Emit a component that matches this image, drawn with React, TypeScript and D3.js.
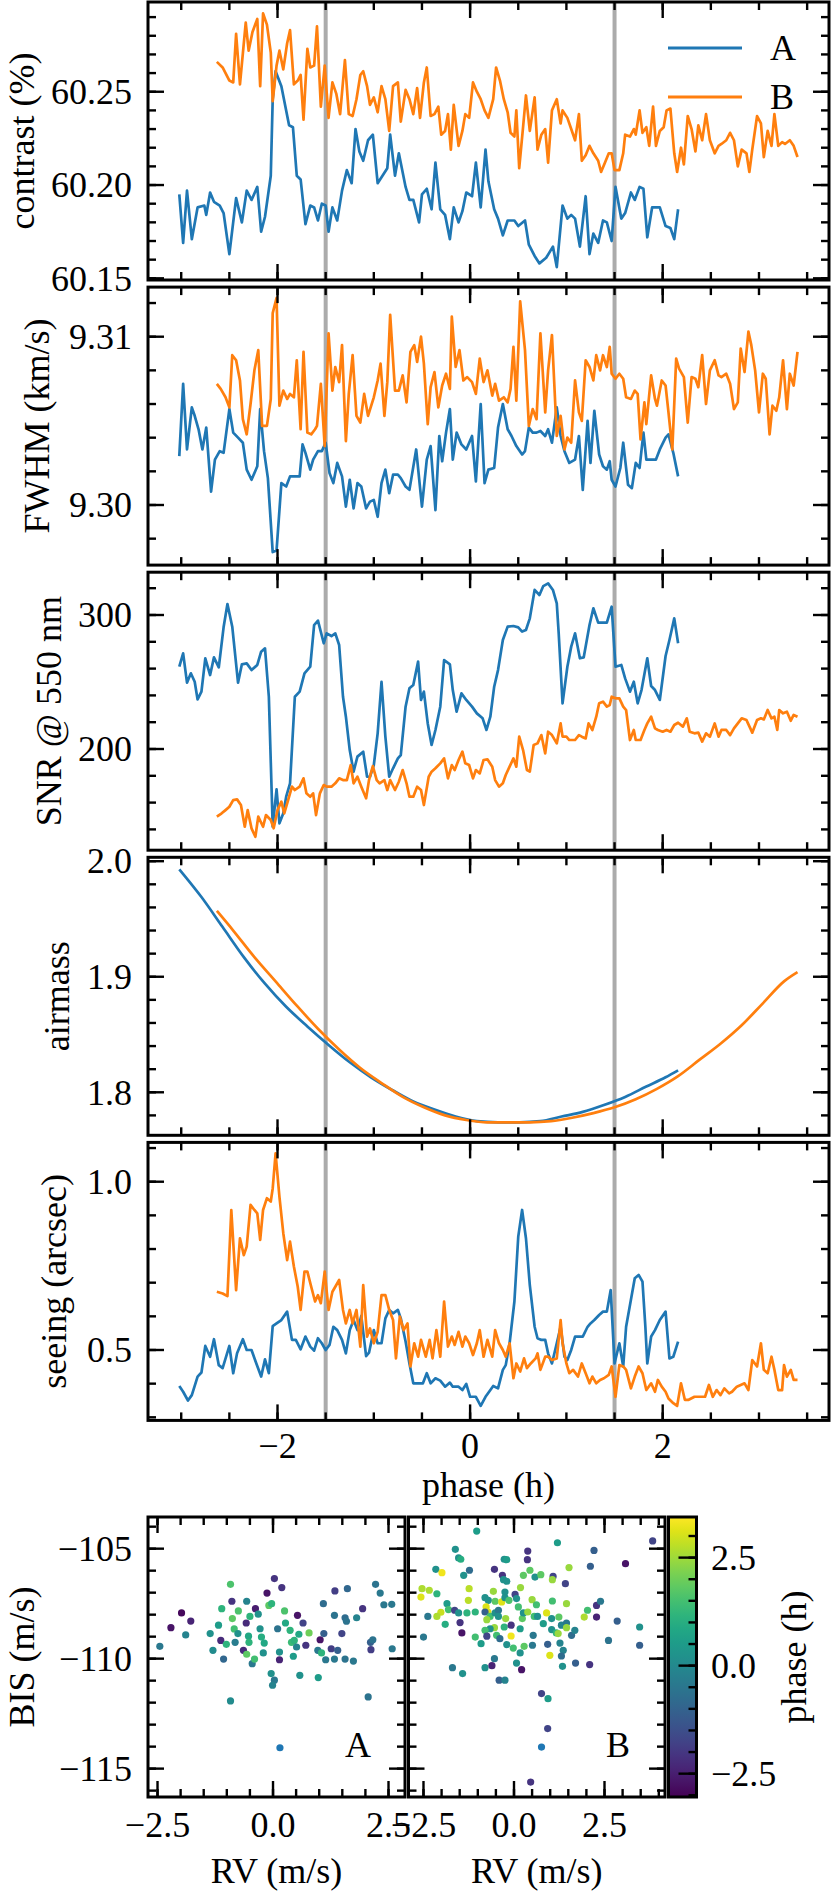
import React from "react";
import * as d3 from "d3";

type P = [number, number];
type S = [number, number, number];

// ---------- data (phase in h, value) ----------
const contrastA: P[] = [[-3.02,60.195],[-2.98,60.169],[-2.94,60.197],[-2.89,60.171],[-2.83,60.188],[-2.76,60.189],[-2.74,60.184],[-2.70,60.196],[-2.66,60.191],[-2.60,60.189],[-2.56,60.185],[-2.50,60.163],[-2.43,60.193],[-2.37,60.180],[-2.32,60.197],[-2.27,60.192],[-2.21,60.199],[-2.17,60.175],[-2.13,60.183],[-2.07,60.205],[-2.05,60.246],[-2.02,60.261],[-1.96,60.253],[-1.88,60.232],[-1.84,60.231],[-1.80,60.205],[-1.76,60.203],[-1.71,60.179],[-1.66,60.189],[-1.62,60.188],[-1.58,60.181],[-1.54,60.190],[-1.50,60.189],[-1.47,60.175],[-1.43,60.188],[-1.38,60.181],[-1.33,60.197],[-1.28,60.208],[-1.23,60.201],[-1.19,60.230],[-1.15,60.218],[-1.11,60.213],[-1.06,60.224],[-1.01,60.227],[-0.96,60.201],[-0.91,60.205],[-0.86,60.209],[-0.83,60.227],[-0.78,60.205],[-0.74,60.217],[-0.67,60.199],[-0.63,60.192],[-0.59,60.192],[-0.53,60.180],[-0.50,60.195],[-0.45,60.198],[-0.40,60.187],[-0.36,60.212],[-0.31,60.187],[-0.26,60.184],[-0.21,60.171],[-0.17,60.188],[-0.12,60.180],[-0.08,60.186],[-0.04,60.196],[0.02,60.194],[0.06,60.212],[0.11,60.188],[0.16,60.219],[0.19,60.202],[0.25,60.187],[0.29,60.182],[0.34,60.173],[0.39,60.181],[0.46,60.181],[0.50,60.178],[0.57,60.181],[0.61,60.168],[0.67,60.162],[0.72,60.158],[0.79,60.161],[0.86,60.167],[0.90,60.156],[0.96,60.189],[1.01,60.182],[1.05,60.184],[1.09,60.182],[1.14,60.167],[1.20,60.194],[1.24,60.163],[1.28,60.174],[1.33,60.169],[1.38,60.181],[1.42,60.180],[1.47,60.170],[1.51,60.199],[1.57,60.182],[1.61,60.185],[1.67,60.196],[1.71,60.192],[1.76,60.199],[1.80,60.198],[1.84,60.172],[1.89,60.188],[1.97,60.188],[2.03,60.178],[2.08,60.177],[2.12,60.171],[2.16,60.187]];

const contrastB: P[] = [[-2.63,60.266],[-2.57,60.263],[-2.50,60.256],[-2.46,60.255],[-2.43,60.281],[-2.39,60.254],[-2.33,60.287],[-2.30,60.272],[-2.26,60.282],[-2.21,60.289],[-2.18,60.253],[-2.15,60.292],[-2.11,60.286],[-2.07,60.271],[-2.05,60.245],[-2.01,60.264],[-1.98,60.272],[-1.94,60.262],[-1.90,60.276],[-1.87,60.283],[-1.83,60.254],[-1.79,60.256],[-1.76,60.259],[-1.73,60.235],[-1.69,60.273],[-1.66,60.263],[-1.62,60.264],[-1.59,60.285],[-1.55,60.242],[-1.51,60.264],[-1.47,60.236],[-1.43,60.255],[-1.39,60.249],[-1.35,60.238],[-1.30,60.267],[-1.26,60.238],[-1.22,60.237],[-1.18,60.246],[-1.14,60.259],[-1.11,60.261],[-1.07,60.253],[-1.04,60.243],[-1.00,60.247],[-0.96,60.239],[-0.92,60.253],[-0.88,60.246],[-0.84,60.229],[-0.80,60.253],[-0.75,60.255],[-0.72,60.234],[-0.67,60.251],[-0.63,60.246],[-0.59,60.238],[-0.55,60.252],[-0.52,60.236],[-0.48,60.255],[-0.45,60.263],[-0.41,60.237],[-0.37,60.238],[-0.33,60.242],[-0.30,60.227],[-0.26,60.229],[-0.23,60.238],[-0.20,60.219],[-0.17,60.243],[-0.12,60.221],[-0.08,60.229],[-0.05,60.238],[-0.01,60.236],[0.03,60.255],[0.07,60.250],[0.11,60.246],[0.15,60.240],[0.19,60.236],[0.24,60.246],[0.27,60.263],[0.31,60.256],[0.35,60.246],[0.39,60.239],[0.42,60.228],[0.46,60.226],[0.48,60.240],[0.51,60.209],[0.55,60.231],[0.58,60.248],[0.62,60.229],[0.67,60.247],[0.70,60.219],[0.74,60.227],[0.78,60.230],[0.81,60.212],[0.85,60.240],[0.90,60.246],[0.94,60.233],[0.96,60.240],[1.01,60.236],[1.05,60.230],[1.09,60.224],[1.13,60.238],[1.16,60.213],[1.20,60.216],[1.24,60.221],[1.28,60.217],[1.33,60.213],[1.36,60.207],[1.40,60.212],[1.44,60.217],[1.47,60.217],[1.50,60.208],[1.55,60.208],[1.59,60.217],[1.61,60.227],[1.66,60.226],[1.70,60.230],[1.72,60.227],[1.76,60.240],[1.79,60.228],[1.83,60.231],[1.86,60.221],[1.90,60.242],[1.93,60.221],[1.97,60.229],[2.01,60.231],[2.04,60.240],[2.08,60.241],[2.12,60.217],[2.15,60.207],[2.19,60.220],[2.22,60.211],[2.26,60.237],[2.30,60.230],[2.34,60.218],[2.37,60.232],[2.41,60.224],[2.45,60.238],[2.49,60.224],[2.54,60.217],[2.58,60.221],[2.61,60.222],[2.66,60.224],[2.70,60.228],[2.74,60.224],[2.78,60.210],[2.82,60.219],[2.87,60.217],[2.90,60.207],[2.93,60.219],[2.98,60.237],[3.02,60.233],[3.05,60.215],[3.09,60.229],[3.13,60.221],[3.16,60.238],[3.20,60.221],[3.24,60.223],[3.27,60.222],[3.32,60.224],[3.36,60.221],[3.40,60.215]];

const fwhmA: P[] = [[-3.02,9.3029],[-2.98,9.3072],[-2.94,9.3033],[-2.89,9.3058],[-2.86,9.3053],[-2.82,9.3045],[-2.78,9.3033],[-2.74,9.3046],[-2.69,9.3008],[-2.65,9.3027],[-2.60,9.3032],[-2.56,9.3031],[-2.50,9.3057],[-2.46,9.3043],[-2.41,9.3040],[-2.36,9.3037],[-2.32,9.3021],[-2.27,9.3015],[-2.21,9.3023],[-2.18,9.3057],[-2.14,9.3032],[-2.10,9.3016],[-2.05,9.2972],[-2.01,9.2973],[-1.96,9.3013],[-1.91,9.3011],[-1.87,9.3017],[-1.83,9.3017],[-1.77,9.3017],[-1.74,9.3036],[-1.71,9.3031],[-1.66,9.3021],[-1.63,9.3027],[-1.58,9.3032],[-1.54,9.3032],[-1.50,9.3037],[-1.46,9.3019],[-1.42,9.3013],[-1.38,9.3025],[-1.33,9.3017],[-1.29,9.2999],[-1.25,9.3015],[-1.21,9.2998],[-1.17,9.3013],[-1.13,9.3011],[-1.08,9.2998],[-1.04,9.3002],[-1.00,9.3003],[-0.96,9.2993],[-0.92,9.3013],[-0.88,9.3021],[-0.84,9.3007],[-0.80,9.3018],[-0.75,9.3018],[-0.72,9.3016],[-0.67,9.3011],[-0.63,9.3009],[-0.56,9.3033],[-0.50,9.2999],[-0.45,9.3027],[-0.41,9.3035],[-0.36,9.2997],[-0.32,9.3041],[-0.29,9.3026],[-0.25,9.3043],[-0.21,9.3057],[-0.18,9.3027],[-0.14,9.3043],[-0.09,9.3036],[-0.04,9.3033],[0.02,9.3041],[0.06,9.3014],[0.11,9.3060],[0.15,9.3013],[0.19,9.3021],[0.25,9.3022],[0.29,9.3046],[0.34,9.3060],[0.39,9.3045],[0.43,9.3041],[0.48,9.3035],[0.54,9.3030],[0.57,9.3032],[0.61,9.3046],[0.65,9.3043],[0.69,9.3043],[0.73,9.3044],[0.78,9.3041],[0.81,9.3045],[0.85,9.3037],[0.90,9.3058],[0.94,9.3041],[0.98,9.3032],[1.03,9.3025],[1.09,9.3027],[1.13,9.3041],[1.17,9.3009],[1.22,9.3050],[1.25,9.3025],[1.29,9.3056],[1.34,9.3030],[1.38,9.3023],[1.42,9.3021],[1.45,9.3026],[1.47,9.3015],[1.51,9.3011],[1.56,9.3022],[1.59,9.3037],[1.64,9.3012],[1.68,9.3010],[1.72,9.3025],[1.76,9.3022],[1.80,9.3043],[1.83,9.3027],[1.89,9.3027],[1.93,9.3027],[1.97,9.3033],[2.03,9.3040],[2.06,9.3042],[2.11,9.3031],[2.16,9.3017]];

const fwhmB: P[] = [[-2.63,9.3072],[-2.59,9.3069],[-2.54,9.3064],[-2.50,9.3058],[-2.47,9.3089],[-2.43,9.3086],[-2.39,9.3074],[-2.36,9.3051],[-2.32,9.3042],[-2.28,9.3060],[-2.24,9.3080],[-2.20,9.3092],[-2.16,9.3047],[-2.11,9.3047],[-2.07,9.3063],[-2.05,9.3114],[-2.01,9.3123],[-1.98,9.3059],[-1.94,9.3068],[-1.90,9.3063],[-1.87,9.3066],[-1.83,9.3064],[-1.80,9.3086],[-1.76,9.3045],[-1.73,9.3091],[-1.69,9.3043],[-1.65,9.3042],[-1.61,9.3045],[-1.59,9.3047],[-1.55,9.3072],[-1.51,9.3035],[-1.47,9.3102],[-1.43,9.3068],[-1.40,9.3082],[-1.36,9.3073],[-1.33,9.3095],[-1.29,9.3038],[-1.26,9.3066],[-1.22,9.3089],[-1.18,9.3053],[-1.14,9.3049],[-1.10,9.3066],[-1.06,9.3053],[-1.00,9.3064],[-0.96,9.3074],[-0.93,9.3084],[-0.89,9.3053],[-0.86,9.3073],[-0.83,9.3113],[-0.78,9.3068],[-0.74,9.3068],[-0.70,9.3077],[-0.66,9.3061],[-0.62,9.3091],[-0.58,9.3095],[-0.55,9.3085],[-0.51,9.3100],[-0.48,9.3084],[-0.44,9.3048],[-0.41,9.3070],[-0.37,9.3079],[-0.33,9.3058],[-0.29,9.3071],[-0.25,9.3078],[-0.21,9.3069],[-0.19,9.3112],[-0.15,9.3082],[-0.11,9.3092],[-0.07,9.3074],[-0.03,9.3076],[0.02,9.3073],[0.06,9.3066],[0.10,9.3087],[0.14,9.3073],[0.18,9.3080],[0.23,9.3065],[0.26,9.3072],[0.30,9.3062],[0.35,9.3064],[0.39,9.3061],[0.42,9.3069],[0.45,9.3094],[0.48,9.3062],[0.52,9.3121],[0.57,9.3092],[0.61,9.3047],[0.65,9.3057],[0.69,9.3051],[0.73,9.3102],[0.78,9.3055],[0.81,9.3080],[0.85,9.3101],[0.90,9.3041],[0.94,9.3053],[0.98,9.3033],[1.01,9.3040],[1.05,9.3037],[1.09,9.3074],[1.13,9.3055],[1.16,9.3050],[1.20,9.3086],[1.24,9.3082],[1.28,9.3074],[1.31,9.3089],[1.35,9.3080],[1.38,9.3089],[1.42,9.3082],[1.45,9.3094],[1.47,9.3078],[1.51,9.3075],[1.55,9.3078],[1.59,9.3075],[1.62,9.3064],[1.67,9.3063],[1.71,9.3068],[1.74,9.3066],[1.77,9.3039],[1.81,9.3061],[1.83,9.3048],[1.88,9.3077],[1.92,9.3063],[1.94,9.3059],[1.99,9.3074],[2.03,9.3071],[2.06,9.3055],[2.10,9.3033],[2.14,9.3087],[2.17,9.3081],[2.22,9.3076],[2.26,9.3049],[2.30,9.3076],[2.34,9.3075],[2.37,9.3070],[2.41,9.3089],[2.45,9.3060],[2.49,9.3080],[2.54,9.3086],[2.58,9.3077],[2.61,9.3076],[2.66,9.3078],[2.70,9.3072],[2.74,9.3057],[2.78,9.3061],[2.81,9.3093],[2.85,9.3079],[2.89,9.3103],[2.92,9.3095],[2.96,9.3080],[3.00,9.3055],[3.04,9.3078],[3.07,9.3075],[3.11,9.3042],[3.14,9.3059],[3.18,9.3056],[3.21,9.3064],[3.25,9.3086],[3.29,9.3057],[3.32,9.3078],[3.36,9.3071],[3.40,9.3091]];

const snrA: P[] = [[-3.02,261.4],[-2.98,271.4],[-2.94,249.5],[-2.90,256.5],[-2.86,250.2],[-2.83,237.0],[-2.79,242.8],[-2.75,267.7],[-2.70,255.2],[-2.66,268.4],[-2.61,260.9],[-2.56,290.8],[-2.52,308.2],[-2.47,291.3],[-2.41,249.5],[-2.37,263.2],[-2.32,263.9],[-2.27,258.9],[-2.21,262.7],[-2.17,272.6],[-2.13,275.1],[-2.09,239.0],[-2.05,142.0],[-2.01,169.9],[-1.98,144.5],[-1.94,152.0],[-1.91,164.4],[-1.87,174.4],[-1.82,239.0],[-1.77,242.8],[-1.72,256.5],[-1.66,261.4],[-1.62,292.5],[-1.58,295.8],[-1.52,278.9],[-1.49,286.3],[-1.44,284.3],[-1.40,286.3],[-1.36,277.6],[-1.32,239.0],[-1.29,224.1],[-1.25,199.2],[-1.21,183.1],[-1.17,194.3],[-1.11,198.0],[-1.07,179.3],[-1.04,179.3],[-1.00,188.0],[-0.96,211.7],[-0.92,250.2],[-0.88,209.2],[-0.84,179.3],[-0.80,185.6],[-0.75,193.0],[-0.72,195.5],[-0.67,231.6],[-0.63,245.3],[-0.59,247.8],[-0.54,265.2],[-0.51,236.6],[-0.48,242.8],[-0.44,219.1],[-0.40,203.0],[-0.36,214.2],[-0.31,231.6],[-0.27,266.4],[-0.21,263.2],[-0.18,244.0],[-0.14,227.8],[-0.09,241.5],[-0.04,236.6],[0.02,231.6],[0.07,226.6],[0.13,222.9],[0.17,214.2],[0.21,224.1],[0.25,246.5],[0.29,258.9],[0.34,281.3],[0.39,291.3],[0.45,291.8],[0.50,290.8],[0.54,287.6],[0.58,288.8],[0.62,297.5],[0.67,318.7],[0.72,314.9],[0.76,321.6],[0.81,323.6],[0.86,318.7],[0.90,308.7],[0.92,286.3],[0.96,234.1],[1.01,261.4],[1.05,276.4],[1.09,286.3],[1.14,267.7],[1.18,268.4],[1.24,292.5],[1.28,305.0],[1.33,294.3],[1.36,294.3],[1.42,294.3],[1.47,306.2],[1.51,261.4],[1.57,262.7],[1.61,252.7],[1.66,242.8],[1.70,250.2],[1.74,234.1],[1.78,244.0],[1.84,267.7],[1.88,247.0],[1.92,244.0],[1.97,236.6],[2.03,269.4],[2.07,281.3],[2.12,297.5],[2.16,278.9]];

const snrB: P[] = [[-2.63,149.5],[-2.58,152.0],[-2.54,154.4],[-2.50,156.9],[-2.46,161.9],[-2.42,162.4],[-2.38,158.2],[-2.34,142.0],[-2.31,154.4],[-2.27,140.8],[-2.23,134.5],[-2.20,149.5],[-2.15,142.0],[-2.12,150.7],[-2.07,147.0],[-2.04,140.8],[-2.00,154.4],[-1.96,160.7],[-1.93,152.0],[-1.89,161.9],[-1.85,171.9],[-1.82,169.4],[-1.77,171.9],[-1.73,178.1],[-1.70,166.9],[-1.66,164.4],[-1.63,166.9],[-1.60,150.7],[-1.56,166.9],[-1.52,173.1],[-1.49,171.9],[-1.44,171.9],[-1.40,174.4],[-1.36,178.1],[-1.32,176.8],[-1.28,176.8],[-1.24,188.0],[-1.21,174.4],[-1.17,179.3],[-1.13,171.9],[-1.08,163.2],[-1.05,176.8],[-1.01,187.3],[-0.97,176.8],[-0.94,174.4],[-0.89,176.8],[-0.86,169.4],[-0.83,176.8],[-0.78,169.4],[-0.74,175.6],[-0.70,184.3],[-0.66,174.4],[-0.63,164.4],[-0.59,164.4],[-0.55,171.9],[-0.51,169.4],[-0.48,158.2],[-0.43,179.3],[-0.40,183.1],[-0.36,185.6],[-0.31,189.3],[-0.27,193.0],[-0.23,178.1],[-0.19,188.0],[-0.16,184.3],[-0.12,191.8],[-0.08,198.0],[-0.05,189.3],[-0.01,188.0],[0.03,178.1],[0.06,184.3],[0.10,181.8],[0.14,191.8],[0.18,192.3],[0.23,186.8],[0.26,176.8],[0.30,171.9],[0.34,174.4],[0.37,180.6],[0.41,186.8],[0.45,193.0],[0.48,186.8],[0.51,209.2],[0.55,199.2],[0.59,184.3],[0.62,183.1],[0.66,203.0],[0.70,204.2],[0.74,210.4],[0.78,196.7],[0.81,212.9],[0.85,210.4],[0.90,204.2],[0.94,219.1],[0.96,209.2],[1.00,209.2],[1.03,206.7],[1.09,206.7],[1.13,210.4],[1.16,209.2],[1.20,207.9],[1.23,219.1],[1.27,214.2],[1.31,224.1],[1.34,234.1],[1.38,235.3],[1.42,231.6],[1.45,232.8],[1.47,239.0],[1.51,237.8],[1.55,237.8],[1.59,231.6],[1.62,229.1],[1.66,206.7],[1.70,214.2],[1.72,206.7],[1.77,206.7],[1.81,214.2],[1.84,219.1],[1.88,224.1],[1.92,215.4],[1.95,214.2],[2.00,212.9],[2.04,214.2],[2.08,212.9],[2.12,217.9],[2.16,219.6],[2.21,216.7],[2.25,222.9],[2.28,212.9],[2.33,211.7],[2.37,212.2],[2.41,205.5],[2.45,211.7],[2.49,209.2],[2.54,219.1],[2.58,209.2],[2.61,214.2],[2.66,214.2],[2.70,210.4],[2.74,215.4],[2.78,219.1],[2.82,222.9],[2.87,221.6],[2.91,215.4],[2.93,212.2],[2.98,221.6],[3.02,222.9],[3.05,222.1],[3.09,229.1],[3.13,222.9],[3.16,224.1],[3.19,214.2],[3.21,229.1],[3.25,226.6],[3.29,227.8],[3.33,221.1],[3.36,225.4],[3.40,224.1]];

const airmassA: P[] = [[-3.02,1.993],[-2.79,1.969],[-2.57,1.943],[-2.35,1.917],[-2.13,1.894],[-1.91,1.874],[-1.69,1.857],[-1.47,1.841],[-1.25,1.826],[-1.03,1.813],[-0.81,1.802],[-0.59,1.792],[-0.37,1.785],[-0.15,1.779],[0.07,1.775],[0.29,1.774],[0.51,1.774],[0.73,1.775],[0.95,1.779],[1.17,1.783],[1.39,1.789],[1.61,1.796],[1.83,1.805],[2.03,1.813],[2.16,1.819]];

const airmassB: P[] = [[-2.63,1.957],[-2.46,1.940],[-2.24,1.917],[-2.02,1.896],[-1.80,1.875],[-1.58,1.855],[-1.36,1.837],[-1.14,1.821],[-0.92,1.808],[-0.70,1.796],[-0.48,1.787],[-0.26,1.780],[-0.04,1.776],[0.18,1.774],[0.40,1.774],[0.62,1.774],[0.84,1.775],[1.06,1.778],[1.28,1.782],[1.50,1.787],[1.72,1.794],[1.94,1.803],[2.16,1.814],[2.38,1.828],[2.60,1.842],[2.82,1.858],[3.04,1.877],[3.26,1.896],[3.40,1.904]];

const seeingA: P[] = [[-3.02,0.393],[-2.98,0.376],[-2.93,0.350],[-2.89,0.366],[-2.83,0.421],[-2.79,0.433],[-2.75,0.512],[-2.70,0.480],[-2.66,0.532],[-2.61,0.455],[-2.57,0.446],[-2.50,0.512],[-2.46,0.431],[-2.42,0.490],[-2.36,0.532],[-2.32,0.500],[-2.27,0.500],[-2.22,0.460],[-2.17,0.421],[-2.13,0.472],[-2.09,0.431],[-2.05,0.571],[-2.01,0.579],[-1.96,0.589],[-1.90,0.614],[-1.85,0.530],[-1.81,0.530],[-1.76,0.502],[-1.71,0.540],[-1.66,0.510],[-1.62,0.498],[-1.58,0.535],[-1.54,0.520],[-1.50,0.500],[-1.46,0.515],[-1.42,0.569],[-1.38,0.559],[-1.33,0.530],[-1.29,0.490],[-1.25,0.559],[-1.21,0.589],[-1.17,0.559],[-1.13,0.601],[-1.08,0.482],[-1.05,0.492],[-1.00,0.559],[-0.96,0.520],[-0.92,0.520],[-0.88,0.594],[-0.84,0.619],[-0.80,0.609],[-0.75,0.619],[-0.72,0.594],[-0.67,0.525],[-0.63,0.460],[-0.59,0.401],[-0.53,0.401],[-0.49,0.401],[-0.45,0.431],[-0.41,0.401],[-0.36,0.416],[-0.31,0.409],[-0.26,0.391],[-0.21,0.403],[-0.18,0.391],[-0.12,0.391],[-0.08,0.381],[-0.04,0.399],[0.00,0.361],[0.06,0.361],[0.11,0.334],[0.16,0.361],[0.19,0.373],[0.24,0.393],[0.29,0.386],[0.34,0.441],[0.37,0.455],[0.41,0.520],[0.46,0.644],[0.50,0.837],[0.54,0.916],[0.58,0.832],[0.62,0.693],[0.67,0.569],[0.70,0.535],[0.74,0.530],[0.78,0.530],[0.81,0.490],[0.85,0.460],[0.90,0.520],[0.94,0.569],[0.98,0.480],[1.01,0.470],[1.05,0.500],[1.09,0.540],[1.13,0.540],[1.17,0.540],[1.22,0.569],[1.25,0.579],[1.29,0.589],[1.34,0.604],[1.38,0.614],[1.42,0.614],[1.46,0.678],[1.50,0.460],[1.55,0.520],[1.59,0.451],[1.62,0.569],[1.67,0.649],[1.71,0.713],[1.75,0.723],[1.79,0.703],[1.82,0.569],[1.84,0.460],[1.88,0.540],[1.92,0.559],[1.97,0.589],[2.03,0.614],[2.07,0.475],[2.11,0.480],[2.16,0.525]];

const seeingB: P[] = [[-2.63,0.673],[-2.57,0.668],[-2.52,0.660],[-2.48,0.916],[-2.43,0.678],[-2.39,0.832],[-2.35,0.782],[-2.32,0.807],[-2.28,0.931],[-2.24,0.916],[-2.21,0.906],[-2.18,0.827],[-2.15,0.916],[-2.11,0.951],[-2.07,0.941],[-2.05,0.980],[-2.02,1.084],[-1.98,0.955],[-1.94,0.847],[-1.90,0.767],[-1.87,0.822],[-1.83,0.748],[-1.79,0.688],[-1.76,0.619],[-1.72,0.733],[-1.69,0.733],[-1.65,0.688],[-1.61,0.644],[-1.58,0.663],[-1.55,0.639],[-1.51,0.733],[-1.47,0.619],[-1.43,0.673],[-1.40,0.688],[-1.36,0.708],[-1.32,0.619],[-1.29,0.579],[-1.25,0.619],[-1.22,0.579],[-1.18,0.619],[-1.14,0.510],[-1.11,0.693],[-1.07,0.540],[-1.04,0.564],[-1.00,0.520],[-0.96,0.554],[-0.92,0.663],[-0.88,0.663],[-0.84,0.619],[-0.80,0.589],[-0.77,0.475],[-0.73,0.599],[-0.69,0.559],[-0.65,0.579],[-0.62,0.451],[-0.58,0.520],[-0.54,0.480],[-0.51,0.530],[-0.46,0.480],[-0.42,0.530],[-0.39,0.475],[-0.35,0.559],[-0.31,0.480],[-0.27,0.644],[-0.23,0.510],[-0.19,0.540],[-0.16,0.515],[-0.12,0.554],[-0.08,0.510],[-0.05,0.540],[-0.01,0.520],[0.03,0.485],[0.07,0.520],[0.10,0.559],[0.14,0.480],[0.18,0.530],[0.23,0.480],[0.26,0.559],[0.30,0.520],[0.34,0.500],[0.37,0.480],[0.41,0.520],[0.45,0.416],[0.48,0.460],[0.52,0.436],[0.56,0.475],[0.59,0.446],[0.63,0.460],[0.68,0.475],[0.70,0.490],[0.73,0.441],[0.78,0.480],[0.81,0.480],[0.85,0.470],[0.90,0.475],[0.94,0.589],[0.96,0.520],[1.00,0.460],[1.03,0.431],[1.07,0.441],[1.12,0.421],[1.16,0.460],[1.20,0.431],[1.24,0.401],[1.27,0.421],[1.31,0.401],[1.35,0.411],[1.39,0.416],[1.44,0.426],[1.47,0.451],[1.51,0.361],[1.55,0.455],[1.59,0.451],[1.62,0.441],[1.67,0.386],[1.71,0.421],[1.75,0.451],[1.79,0.431],[1.83,0.381],[1.88,0.401],[1.92,0.376],[1.95,0.411],[1.99,0.391],[2.03,0.376],[2.06,0.356],[2.11,0.342],[2.15,0.334],[2.19,0.401],[2.23,0.352],[2.27,0.352],[2.33,0.361],[2.38,0.361],[2.44,0.361],[2.48,0.396],[2.52,0.361],[2.56,0.381],[2.60,0.366],[2.64,0.386],[2.69,0.371],[2.72,0.376],[2.77,0.391],[2.81,0.396],[2.85,0.401],[2.89,0.381],[2.93,0.470],[2.98,0.451],[3.02,0.520],[3.05,0.441],[3.09,0.431],[3.13,0.480],[3.16,0.441],[3.20,0.381],[3.24,0.381],[3.26,0.455],[3.29,0.421],[3.33,0.441],[3.36,0.411],[3.40,0.411]];

// RV (m/s), BIS (m/s), phase (h)
const bisA: S[] = [[-2.45,-109.44,-0.45],[-2.21,-108.59,-2.71],[-1.98,-107.92,-2.9],[-1.78,-108.29,-2.39],[-1.89,-108.92,-0.13],[-1.36,-108.86,0.2],[-1.30,-109.62,0.07],[-1.18,-108.48,0.52],[-1.13,-109.17,-2.26],[-1.07,-110.02,-0.9],[-1.01,-109.35,1.16],[-1.11,-107.73,1.16],[-0.92,-106.62,1.61],[-0.89,-107.39,-2.06],[-0.88,-108.18,1.81],[-0.84,-108.65,1.49],[-0.82,-109.26,-0.32],[-0.76,-108.86,0.2],[-0.75,-107.83,1.61],[-0.64,-109.62,-2.26],[-0.58,-108.38,-2.26],[-0.57,-107.39,-0.13],[-0.57,-109.80,1.81],[-0.53,-108.98,0.84],[-0.52,-109.26,1.16],[-0.50,-108.08,1.16],[-0.45,-110.23,-0.45],[-0.40,-110.02,1.49],[-0.38,-107.73,-2.51],[-0.32,-107.98,0.2],[-0.28,-108.64,0.2],[-0.25,-109.02,0.97],[-0.21,-109.74,0.2],[-0.19,-109.29,0.84],[-0.13,-107.02,-2.71],[-0.09,-107.58,1.81],[-0.03,-107.50,1.16],[0.03,-106.36,-2.06],[0.10,-108.64,-0.58],[0.19,-106.77,-2.06],[0.14,-110.05,-2.39],[-0.04,-110.68,0.2],[0.03,-110.98,-0.45],[-0.01,-111.21,-0.13],[0.14,-109.70,0.2],[0.25,-107.83,1.61],[0.27,-108.38,0.84],[0.37,-108.71,1.16],[0.40,-109.26,1.36],[0.46,-109.17,1.16],[0.51,-109.47,-0.13],[0.44,-109.89,0.52],[0.53,-108.03,-2.71],[0.56,-108.89,0.84],[0.65,-108.38,-1.74],[0.71,-109.39,-2.06],[0.58,-110.76,0.2],[0.78,-108.83,2.0],[0.98,-110.86,0.52],[0.97,-109.62,-0.45],[1.02,-109.14,-2.71],[1.05,-109.74,1.16],[1.10,-108.86,-1.1],[1.09,-107.50,-0.77],[1.14,-110.05,-0.45],[1.26,-109.55,-1.87],[1.33,-110.02,-0.45],[1.34,-106.92,-1.87],[1.40,-109.62,-1.1],[1.33,-108.03,-0.58],[1.49,-108.86,-1.74],[1.56,-108.14,-0.77],[1.59,-108.30,-0.58],[1.61,-106.82,-0.9],[1.56,-110.02,-0.58],[1.74,-110.11,-0.45],[1.81,-108.14,-0.13],[1.94,-107.73,-2.06],[2.06,-111.74,-0.58],[2.11,-109.26,-1.1],[2.12,-109.59,-1.87],[2.16,-109.14,-0.58],[2.22,-106.62,-0.58],[2.32,-107.02,-0.45],[2.40,-107.55,-0.45],[2.57,-107.53,-0.45],[2.58,-109.55,-0.45],[-0.92,-111.92,0.07]];

const bisB: S[] = [[-1.03,-104.20,0.52],[1.20,-104.73,0.52],[3.83,-104.65,-1.74],[-1.62,-105.03,0.2],[-1.53,-105.42,0.2],[-1.47,-105.48,0.97],[0.38,-105.11,-2.06],[0.37,-105.50,-2.06],[-0.27,-105.48,0.2],[-0.20,-105.50,0.52],[2.21,-105.08,-1.1],[2.11,-105.80,-1.1],[3.08,-105.68,-2.71],[-2.16,-105.94,0.2],[-1.99,-106.09,3.29],[-1.39,-106.21,0.2],[-1.23,-105.98,-0.77],[-0.54,-105.94,-2.06],[-0.32,-106.21,-2.06],[-0.29,-106.41,0.2],[-0.20,-106.48,0.2],[0.26,-106.21,1.81],[0.44,-105.98,1.81],[0.58,-106.29,0.2],[0.74,-106.18,1.81],[1.08,-106.26,-1.74],[1.06,-106.41,2.45],[1.52,-105.86,2.45],[1.42,-106.59,-1.74],[-2.54,-106.82,2.65],[-2.34,-106.89,2.65],[-2.57,-107.20,3.1],[-2.13,-107.05,1.16],[-1.24,-106.82,2.78],[-1.26,-107.35,2.78],[-1.85,-107.50,0.52],[-1.81,-107.77,1.49],[-1.64,-107.80,-1.74],[-1.53,-107.92,0.2],[-2.02,-107.89,2.9],[-2.13,-108.08,2.65],[-2.38,-108.08,-0.45],[-1.30,-107.92,1.16],[-1.07,-107.88,1.16],[-1.49,-108.36,-2.06],[-1.44,-108.83,-2.71],[-1.90,-108.44,0.97],[-2.50,-109.02,-0.45],[-0.80,-107.23,0.2],[-0.57,-106.94,2.45],[-0.71,-107.35,0.2],[-0.52,-107.39,1.81],[-0.34,-107.42,3.1],[-0.25,-106.97,0.2],[-0.25,-107.23,0.2],[-0.14,-107.35,1.61],[0.03,-107.08,-1.74],[0.07,-107.27,0.2],[0.18,-106.77,2.45],[-0.77,-107.65,3.1],[-0.72,-107.88,3.1],[-0.80,-107.88,-1.1],[-0.66,-108.08,1.49],[-0.75,-108.23,2.45],[-0.52,-107.92,0.2],[-0.43,-107.80,-0.45],[-0.43,-108.08,0.2],[-0.23,-108.18,2.45],[-0.27,-108.56,1.16],[-0.54,-108.59,2.45],[-0.66,-108.64,0.2],[-0.80,-108.71,1.49],[-0.75,-108.98,-1.74],[-1.07,-109.02,1.49],[-0.91,-109.32,0.52],[-0.48,-108.94,1.49],[-0.39,-109.09,-0.77],[-0.08,-108.97,3.29],[-0.08,-108.48,-2.06],[-0.20,-109.36,0.2],[-0.02,-109.52,1.49],[0.17,-109.74,0.2],[0.28,-109.44,1.81],[0.07,-110.20,0.2],[0.21,-110.50,-2.71],[0.17,-108.64,0.52],[0.12,-107.65,1.49],[0.23,-108.18,1.81],[0.26,-107.92,0.2],[0.38,-107.88,2.45],[0.50,-107.32,2.45],[0.62,-107.55,1.49],[0.56,-108.08,1.49],[0.65,-108.08,0.2],[0.53,-108.94,-0.45],[0.51,-109.39,-0.45],[0.81,-108.41,0.52],[0.90,-107.92,3.1],[1.04,-108.18,0.2],[1.04,-108.68,0.2],[1.06,-107.38,1.49],[1.17,-108.83,1.16],[1.24,-108.11,1.81],[1.22,-108.86,2.45],[1.31,-108.48,-0.13],[1.45,-107.50,2.45],[1.45,-108.38,-0.45],[1.45,-108.59,2.45],[1.59,-108.94,-0.77],[1.68,-108.71,-0.13],[0.93,-109.35,-1.1],[1.27,-109.29,-0.13],[1.36,-109.62,-0.13],[1.31,-109.88,-0.77],[0.99,-109.85,3.1],[1.34,-110.35,0.2],[1.70,-110.20,-1.1],[2.09,-110.27,-2.06],[1.94,-108.11,2.65],[2.03,-107.80,1.49],[2.28,-107.58,-2.06],[2.28,-108.11,-2.39],[2.39,-107.39,-0.45],[2.85,-108.29,-1.1],[2.61,-109.17,-0.58],[3.47,-108.56,0.2],[3.47,-109.39,-1.1],[-1.70,-110.41,-0.45],[-1.42,-110.68,0.2],[-0.80,-110.41,0.2],[-0.61,-110.32,-2.39],[-0.54,-110.00,-0.45],[-0.41,-110.98,-1.1],[-0.25,-110.98,-0.13],[0.76,-111.59,-1.74],[0.94,-111.82,0.52],[0.93,-113.18,-1.74],[0.46,-115.61,-2.06]];

const markA: P[] = [[0.15, -114.05]];
const markB: P[] = [[0.76, -114.02]];

const seriesNames = ["A", "B"];
const phaseMajor = [-2, 0, 2];
const eventPhases = [-1.5, 1.5];
const contrastTicks = [60.15, 60.2, 60.25];
const fwhmTicks = [9.3, 9.31];
const snrTicks = [200, 300];
const airmassTicks = [1.8, 1.9, 2.0];
const seeingTicks = [0.5, 1.0];
const rvTicks = [-2.5, 0, 2.5];
const bisTicks = [-105, -110, -115];
const cbarTicks = [-2.5, 0, 2.5];

// ---------- style ----------
const FONT = "Liberation Serif, Times New Roman, serif";
const FS = 36;
const BLUE = "#1f77b4";
const ORANGE = "#ff7f0e";
const GREY = "#ababab";
const SPINE = 3;
const TW = 2.4;
const MAJ = 16;
const MIN = 8;

const fmtNum = (v: number, d: number) => {
  const s = Math.abs(v).toFixed(d);
  return (v < 0 && Math.abs(v) > 1e-9 ? "\u2212" : "") + s;
};

function minors(d0: number, d1: number, step: number): number[] {
  const lo = Math.min(d0, d1), hi = Math.max(d0, d1);
  const out: number[] = [];
  for (let k = Math.ceil(lo / step - 1e-6); k * step <= hi + 1e-9; k++) out.push(k * step);
  return out;
}

type Lin = d3.ScaleLinear<number, number>;

function TickSet({ xs, ys, xMajor, xMinor, yMajor, yMinor }: { xs: Lin; ys: Lin; xMajor: number[]; xMinor: number[]; yMajor: number[]; yMinor: number[] }) {
  const [x0, x1] = xs.range();
  const [yb, yt] = ys.range();
  const segs: any[] = [];
  let k = 0;
  const add = (a: number, b: number, c: number, d: number) => segs.push(<line key={k++} x1={a} y1={b} x2={c} y2={d} />);
  xMinor.forEach(v => { const p = xs(v); if (p < x0 || p > x1) return; add(p, yt, p, yt + MIN); add(p, yb, p, yb - MIN); });
  xMajor.forEach(v => { const p = xs(v); add(p, yt, p, yt + MAJ); add(p, yb, p, yb - MAJ); });
  yMinor.forEach(v => { const p = ys(v); if (p > yb || p < yt) return; add(x0, p, x0 + MIN, p); add(x1, p, x1 - MIN, p); });
  yMajor.forEach(v => { const p = ys(v); add(x0, p, x0 + MAJ, p); add(x1, p, x1 - MAJ, p); });
  return <g stroke="#000" strokeWidth={TW}>{segs}</g>;
}

export default function App() {
  const X0 = 148, X1 = 829;
  const x = d3.scaleLinear().domain([-3.345, 3.727]).range([X0, X1]);
  const tops = [2, 287.1, 572.2, 857.3, 1142.4];
  const PH = 278;
  const xMinor = minors(-3.345, 3.727, 0.5);

  const panels = [
    { id: "contrast", label: "contrast (%)", labelX: 34, domain: [60.1491, 60.2981], major: contrastTicks, step: 0.01, dec: 2, A: contrastA, B: contrastB, smooth: false },
    { id: "fwhm", label: "FWHM (km/s)", labelX: 49, domain: [9.296429, 9.312947], major: fwhmTicks, step: 0.002, dec: 2, A: fwhmA, B: fwhmB, smooth: false },
    { id: "snr", label: "SNR @ 550 nm", labelX: 61, domain: [124.48, 331.94], major: snrTicks, step: 20, dec: 0, A: snrA, B: snrB, smooth: false },
    { id: "airmass", label: "airmass", labelX: 69, domain: [1.76277, 2.00338], major: airmassTicks, step: 0.02, dec: 1, A: airmassA, B: airmassB, smooth: true },
    { id: "seeing", label: "seeing (arcsec)", labelX: 66, domain: [0.2908, 1.1168], major: seeingTicks, step: 0.1, dec: 1, A: seeingA, B: seeingB, smooth: false },
  ];

  // scatter
  const SY0 = 1517, SY1 = 1797;
  const ys = d3.scaleLinear().domain([-116.29, -103.56]).range([SY1, SY0]);
  const xsA = d3.scaleLinear().domain([-2.706, 2.857]).range([148, 405]);
  const xsB = d3.scaleLinear().domain([-2.914, 4.171]).range([408.5, 665]);
  const color = d3.scaleSequential(d3.interpolateViridis).domain([-3.04, 3.44]);
  const cb = d3.scaleLinear().domain([-3.04, 3.44]).range([SY1, SY0]);
  const CB0 = 668.5, CB1 = 696.5;
  const stops = d3.range(0, 1.0001, 0.05);

  const scatters = [
    { name: seriesNames[0], xs: xsA, pts: bisA, mark: markA, showY: true },
    { name: seriesNames[1], xs: xsB, pts: bisB, mark: markB, showY: false },
  ];

  return (
    <svg width={831} height={1895} viewBox="0 0 831 1895" style={{ position: "absolute", left: 0, top: 0, background: "#fff" }} fontFamily={FONT} fontSize={FS}>
      <defs>
        {panels.map((p, i) => (
          <clipPath id={`clip-${p.id}`} key={p.id}>
            <rect x={X0} y={tops[i]} width={X1 - X0} height={PH} />
          </clipPath>
        ))}
        <linearGradient id="viridis" x1="0" y1="1" x2="0" y2="0">
          {stops.map((t, i) => <stop key={i} offset={t} stopColor={d3.interpolateViridis(t)} />)}
        </linearGradient>
      </defs>
      <rect x={0} y={0} width={831} height={1895} fill="#fff" />

      {panels.map((p, i) => {
        const y = d3.scaleLinear().domain(p.domain).range([tops[i] + PH, tops[i]]);
        const line = d3.line<P>().x(d => x(d[0])).y(d => y(d[1]));
        if (p.smooth) line.curve(d3.curveMonotoneX);
        const yMinor = minors(p.domain[0], p.domain[1], p.step);
        const cy = tops[i] + PH / 2;
        return (
          <g key={p.id}>
            <g clipPath={`url(#clip-${p.id})`}>
              {eventPhases.map(e => (
                <line key={e} x1={x(e)} x2={x(e)} y1={tops[i]} y2={tops[i] + PH} stroke={GREY} strokeWidth={4} />
              ))}
              <path d={line(p.A) || ""} fill="none" stroke={BLUE} strokeWidth={2.7} strokeLinejoin="round" />
              <path d={line(p.B) || ""} fill="none" stroke={ORANGE} strokeWidth={2.7} strokeLinejoin="round" />
            </g>
            <TickSet xs={x} ys={y} xMajor={phaseMajor} xMinor={xMinor} yMajor={p.major} yMinor={yMinor} />
            <rect x={X0} y={tops[i]} width={X1 - X0} height={PH} fill="none" stroke="#000" strokeWidth={SPINE} />
            {p.major.map(v => (
              <text key={v} x={132} y={y(v)} dy="0.34em" textAnchor="end">{fmtNum(v, p.dec)}</text>
            ))}
            <text transform={`translate(${p.labelX},${cy}) rotate(-90)`} textAnchor="middle">{p.label}</text>
          </g>
        );
      })}

      {/* legend */}
      <g>
        <line x1={668} x2={742} y1={48} y2={48} stroke={BLUE} strokeWidth={3} />
        <text x={770} y={48} dy="0.34em">{seriesNames[0]}</text>
        <line x1={668} x2={742} y1={97} y2={97} stroke={ORANGE} strokeWidth={3} />
        <text x={770} y={97} dy="0.34em">{seriesNames[1]}</text>
      </g>

      {/* phase axis labels */}
      {phaseMajor.map(v => (
        <text key={v} x={x(v)} y={1458} textAnchor="middle">{fmtNum(v, 0)}</text>
      ))}
      <text x={(X0 + X1) / 2} y={1497} textAnchor="middle">phase (h)</text>

      {/* scatter panels */}
      {scatters.map(s => {
        const [sx0, sx1] = s.xs.range();
        return (
          <g key={s.name}>
            {s.pts.map((d, j) => (
              <circle key={j} cx={s.xs(d[0])} cy={ys(d[1])} r={3.6} fill={color(d[2])} />
            ))}
            {s.mark.map((d, j) => (
              <circle key={`m${j}`} cx={s.xs(d[0])} cy={ys(d[1])} r={3.6} fill={BLUE} />
            ))}
            <TickSet xs={s.xs} ys={ys} xMajor={rvTicks} xMinor={minors(s.xs.domain()[0], s.xs.domain()[1], 0.5)} yMajor={bisTicks} yMinor={minors(-116.29, -103.56, 1)} />
            <rect x={sx0} y={SY0} width={sx1 - sx0} height={SY1 - SY0} fill="none" stroke="#000" strokeWidth={SPINE} />
            <text x={sx1 - 47} y={1757} textAnchor="middle">{s.name}</text>
            {rvTicks.map(v => (
              <text key={v} x={s.xs(v)} y={1837} textAnchor="middle">{fmtNum(v, 1)}</text>
            ))}
            <text x={(sx0 + sx1) / 2} y={1883} textAnchor="middle">RV (m/s)</text>
            {s.showY && bisTicks.map(v => (
              <text key={v} x={132} y={ys(v)} dy="0.34em" textAnchor="end">{fmtNum(v, 0)}</text>
            ))}
          </g>
        );
      })}
      <text transform={`translate(34,${(SY0 + SY1) / 2}) rotate(-90)`} textAnchor="middle">BIS (m/s)</text>

      {/* colorbar */}
      <rect x={CB0} y={SY0} width={CB1 - CB0} height={SY1 - SY0} fill="url(#viridis)" />
      <g stroke="#000" strokeWidth={TW}>
        {minors(-3.04, 3.44, 0.5).map(v => (
          <line key={v} x1={CB1} x2={CB1 - MIN} y1={cb(v)} y2={cb(v)} />
        ))}
        {cbarTicks.map(v => (
          <line key={v} x1={CB1} x2={CB1 - MAJ - 2} y1={cb(v)} y2={cb(v)} />
        ))}
      </g>
      <rect x={CB0} y={SY0} width={CB1 - CB0} height={SY1 - SY0} fill="none" stroke="#000" strokeWidth={SPINE} />
      {cbarTicks.map(v => (
        <text key={v} x={711} y={cb(v)} dy="0.34em">{fmtNum(v, 1)}</text>
      ))}
      <text transform={`translate(806,${(SY0 + SY1) / 2}) rotate(-90)`} textAnchor="middle">phase (h)</text>
    </svg>
  );
}
